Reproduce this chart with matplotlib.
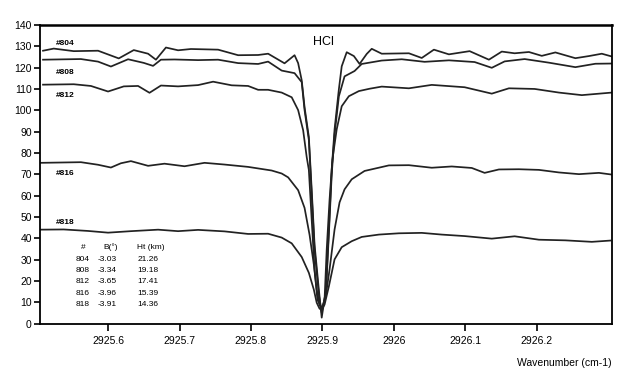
import matplotlib
matplotlib.use("Agg")
import matplotlib.pyplot as plt
from matplotlib.ticker import FormatStrFormatter

plt.rcParams['font.family'] = ['Liberation Sans', 'DejaVu Sans']

# spectra (wavenumber, signal)
wn_804 = [2925.509, 2925.524, 2925.552, 2925.586, 2925.615, 2925.636, 2925.656, 2925.667,
          2925.681, 2925.698, 2925.716, 2925.754, 2925.782, 2925.810, 2925.824, 2925.847,
          2925.861, 2925.866, 2925.871, 2925.875, 2925.881, 2925.885, 2925.889, 2925.895,
          2925.899, 2925.905, 2925.909, 2925.913, 2925.917, 2925.923, 2925.927, 2925.934,
          2925.944, 2925.952, 2925.962, 2925.969, 2925.983, 2926.021, 2926.039, 2926.056,
          2926.077, 2926.106, 2926.133, 2926.151, 2926.169, 2926.189, 2926.207, 2926.226,
          2926.254, 2926.273, 2926.291, 2926.305]
sig_804 = [127.9, 128.9, 127.7, 127.9, 124.3, 128.2, 126.5, 123.7,
           129.4, 128.1, 128.7, 128.4, 125.8, 125.9, 126.5, 122.0,
           125.8, 122.1, 114.1, 101.5, 87.5, 62.7, 37.0, 16.0,
           2.9, 16.1, 44.2, 72.3, 91.1, 109.8, 120.6, 127.2,
           125.4, 121.7, 126.4, 128.8, 126.5, 126.7, 124.5, 128.4,
           126.2, 127.7, 123.7, 127.5, 126.7, 127.3, 125.5, 127.1,
           124.4, 125.4, 126.5, 125.2]

wn_808 = [2925.509, 2925.562, 2925.586, 2925.604, 2925.628, 2925.650, 2925.663, 2925.674,
          2925.693, 2925.726, 2925.754, 2925.782, 2925.810, 2925.824, 2925.843, 2925.861,
          2925.871, 2925.875, 2925.881, 2925.885, 2925.889, 2925.895, 2925.899, 2925.905,
          2925.909, 2925.913, 2925.917, 2925.923, 2925.931, 2925.945, 2925.955, 2925.983,
          2926.011, 2926.043, 2926.077, 2926.113, 2926.137, 2926.155, 2926.183, 2926.217,
          2926.254, 2926.282, 2926.305]
sig_808 = [123.7, 124.0, 122.8, 120.5, 123.9, 122.2, 120.8, 123.7,
           123.8, 123.5, 123.7, 122.1, 121.7, 122.8, 118.6, 117.4,
           113.2, 100.1, 86.1, 60.4, 34.7, 13.7, 5.2, 15.1,
           41.9, 69.9, 88.7, 106.5, 115.9, 118.4, 121.7, 123.3,
           123.9, 122.7, 123.4, 122.6, 119.9, 122.9, 124.0, 122.3,
           120.2, 121.8, 121.9]

wn_812 = [2925.509, 2925.552, 2925.576, 2925.600, 2925.622, 2925.642, 2925.658, 2925.674,
          2925.698, 2925.726, 2925.747, 2925.773, 2925.796, 2925.810, 2925.824, 2925.843,
          2925.857, 2925.866, 2925.873, 2925.878, 2925.881, 2925.885, 2925.889, 2925.893,
          2925.899, 2925.903, 2925.906, 2925.910, 2925.914, 2925.920, 2925.927, 2925.937,
          2925.951, 2925.966, 2925.983, 2926.021, 2926.053, 2926.099, 2926.137, 2926.161,
          2926.197, 2926.231, 2926.263, 2926.305]
sig_812 = [112.0, 112.2, 111.4, 108.8, 111.2, 111.4, 108.2, 111.6,
           111.2, 111.8, 113.4, 111.7, 111.4, 109.6, 109.6, 108.3,
           106.1, 100.1, 90.7, 78.1, 72.1, 48.7, 25.3, 11.3,
           7.1, 11.4, 34.8, 58.2, 77.0, 91.1, 101.9, 106.6,
           109.0, 110.1, 111.1, 110.3, 111.9, 110.8, 107.8, 110.3,
           110.0, 108.3, 107.1, 108.3]

wn_816 = [2925.506, 2925.562, 2925.586, 2925.604, 2925.618, 2925.632, 2925.656, 2925.679,
          2925.707, 2925.735, 2925.763, 2925.796, 2925.829, 2925.843, 2925.852, 2925.866,
          2925.875, 2925.882, 2925.888, 2925.892, 2925.896, 2925.899, 2925.902, 2925.905,
          2925.910, 2925.917, 2925.924, 2925.931, 2925.941, 2925.959, 2925.993, 2926.021,
          2926.053, 2926.081, 2926.109, 2926.127, 2926.147, 2926.175, 2926.203, 2926.231,
          2926.259, 2926.287, 2926.305]
sig_816 = [75.4, 75.7, 74.5, 73.2, 75.2, 76.2, 74.0, 75.0,
           73.8, 75.4, 74.6, 73.5, 71.8, 70.4, 68.6, 62.6,
           54.3, 41.7, 27.7, 16.0, 8.9, 7.6, 9.0, 13.7,
           25.5, 44.2, 56.9, 63.0, 67.7, 71.6, 74.2, 74.3,
           73.1, 73.7, 73.0, 70.7, 72.3, 72.4, 72.1, 70.9,
           70.1, 70.7, 69.9]

wn_818 = [2925.502, 2925.538, 2925.572, 2925.600, 2925.632, 2925.670, 2925.698, 2925.726,
          2925.763, 2925.796, 2925.824, 2925.843, 2925.857, 2925.871, 2925.881, 2925.888,
          2925.892, 2925.896, 2925.899, 2925.903, 2925.909, 2925.917, 2925.927, 2925.941,
          2925.955, 2925.979, 2926.007, 2926.039, 2926.067, 2926.099, 2926.137, 2926.169,
          2926.203, 2926.240, 2926.277, 2926.303]
sig_818 = [44.1, 44.2, 43.5, 42.7, 43.4, 44.1, 43.4, 44.0,
           43.3, 42.1, 42.2, 40.4, 37.7, 31.3, 23.9, 16.0,
           9.9, 7.1, 6.6, 9.0, 17.5, 30.2, 35.9, 38.7,
           40.7, 41.8, 42.4, 42.6, 41.8, 41.1, 39.9, 41.0,
           39.4, 39.1, 38.4, 39.0]

series = [(wn_804, sig_804), (wn_808, sig_808), (wn_812, sig_812),
          (wn_816, sig_816), (wn_818, sig_818)]

curve_labels = ['#804', '#808', '#812', '#816', '#818']
label_y = [131.5, 117.5, 107.0, 70.5, 47.5]

table_header = ['#', 'B(°)', 'Ht (km)']
table_ids = ['804', '808', '812', '816', '818']
table_b = ['-3.03', '-3.34', '-3.65', '-3.96', '-3.91']
table_ht = ['21.26', '19.18', '17.41', '15.39', '14.36']

yticks = list(range(0, 141, 10))
xticks = [2925.6, 2925.7, 2925.8, 2925.9, 2926.0, 2926.1, 2926.2]

fig = plt.figure(figsize=(6.18, 3.77), dpi=100)
ax = fig.add_axes([0.065, 0.141, 0.925, 0.793])

for wn, sig in series:
    ax.plot(wn, sig, color='#222222', linewidth=1.25)

ax.set_xlim(2925.505, 2926.305)
ax.set_ylim(0, 140)
ax.set_yticks(yticks)
ax.set_xticks(xticks)
ax.xaxis.set_major_formatter(FormatStrFormatter('%g'))
ax.tick_params(direction='out', length=4, width=1.2, labelsize=7.5, pad=2)
ax.tick_params(axis='x', length=5, pad=4)
for s in ax.spines.values():
    s.set_linewidth(1.3)
ax.spines['top'].set_linewidth(1.8)

for lab, ly in zip(curve_labels, label_y):
    ax.text(2925.527, ly, lab, fontsize=6, fontweight='bold', va='center', ha='left')

ax.text(2925.902, 132, 'HCl', fontsize=9, ha='center', va='center')

# little parameter table in the lower left
col_x = [0.07, 0.10, 0.17]
fs = 6
ax.text(col_x[0] + 0.005, 0.255, table_header[0], transform=ax.transAxes, fontsize=fs, ha='center', va='center')
ax.text(col_x[1] + 0.01, 0.255, table_header[1], transform=ax.transAxes, fontsize=fs, ha='left', va='center')
ax.text(col_x[2], 0.255, table_header[2], transform=ax.transAxes, fontsize=fs, ha='left', va='center')
for i in range(len(table_ids)):
    yy = 0.214 - i * 0.037
    ax.text(col_x[0] - 0.008, yy, table_ids[i], transform=ax.transAxes, fontsize=fs, ha='left', va='center')
    ax.text(col_x[1], yy, table_b[i], transform=ax.transAxes, fontsize=fs, ha='left', va='center')
    ax.text(col_x[2], yy, table_ht[i], transform=ax.transAxes, fontsize=fs, ha='left', va='center')

fig.text(0.99, 0.025, 'Wavenumber (cm-1)', fontsize=7.5, ha='right', va='bottom')

fig.savefig('out.png', dpi=100, facecolor='white')
